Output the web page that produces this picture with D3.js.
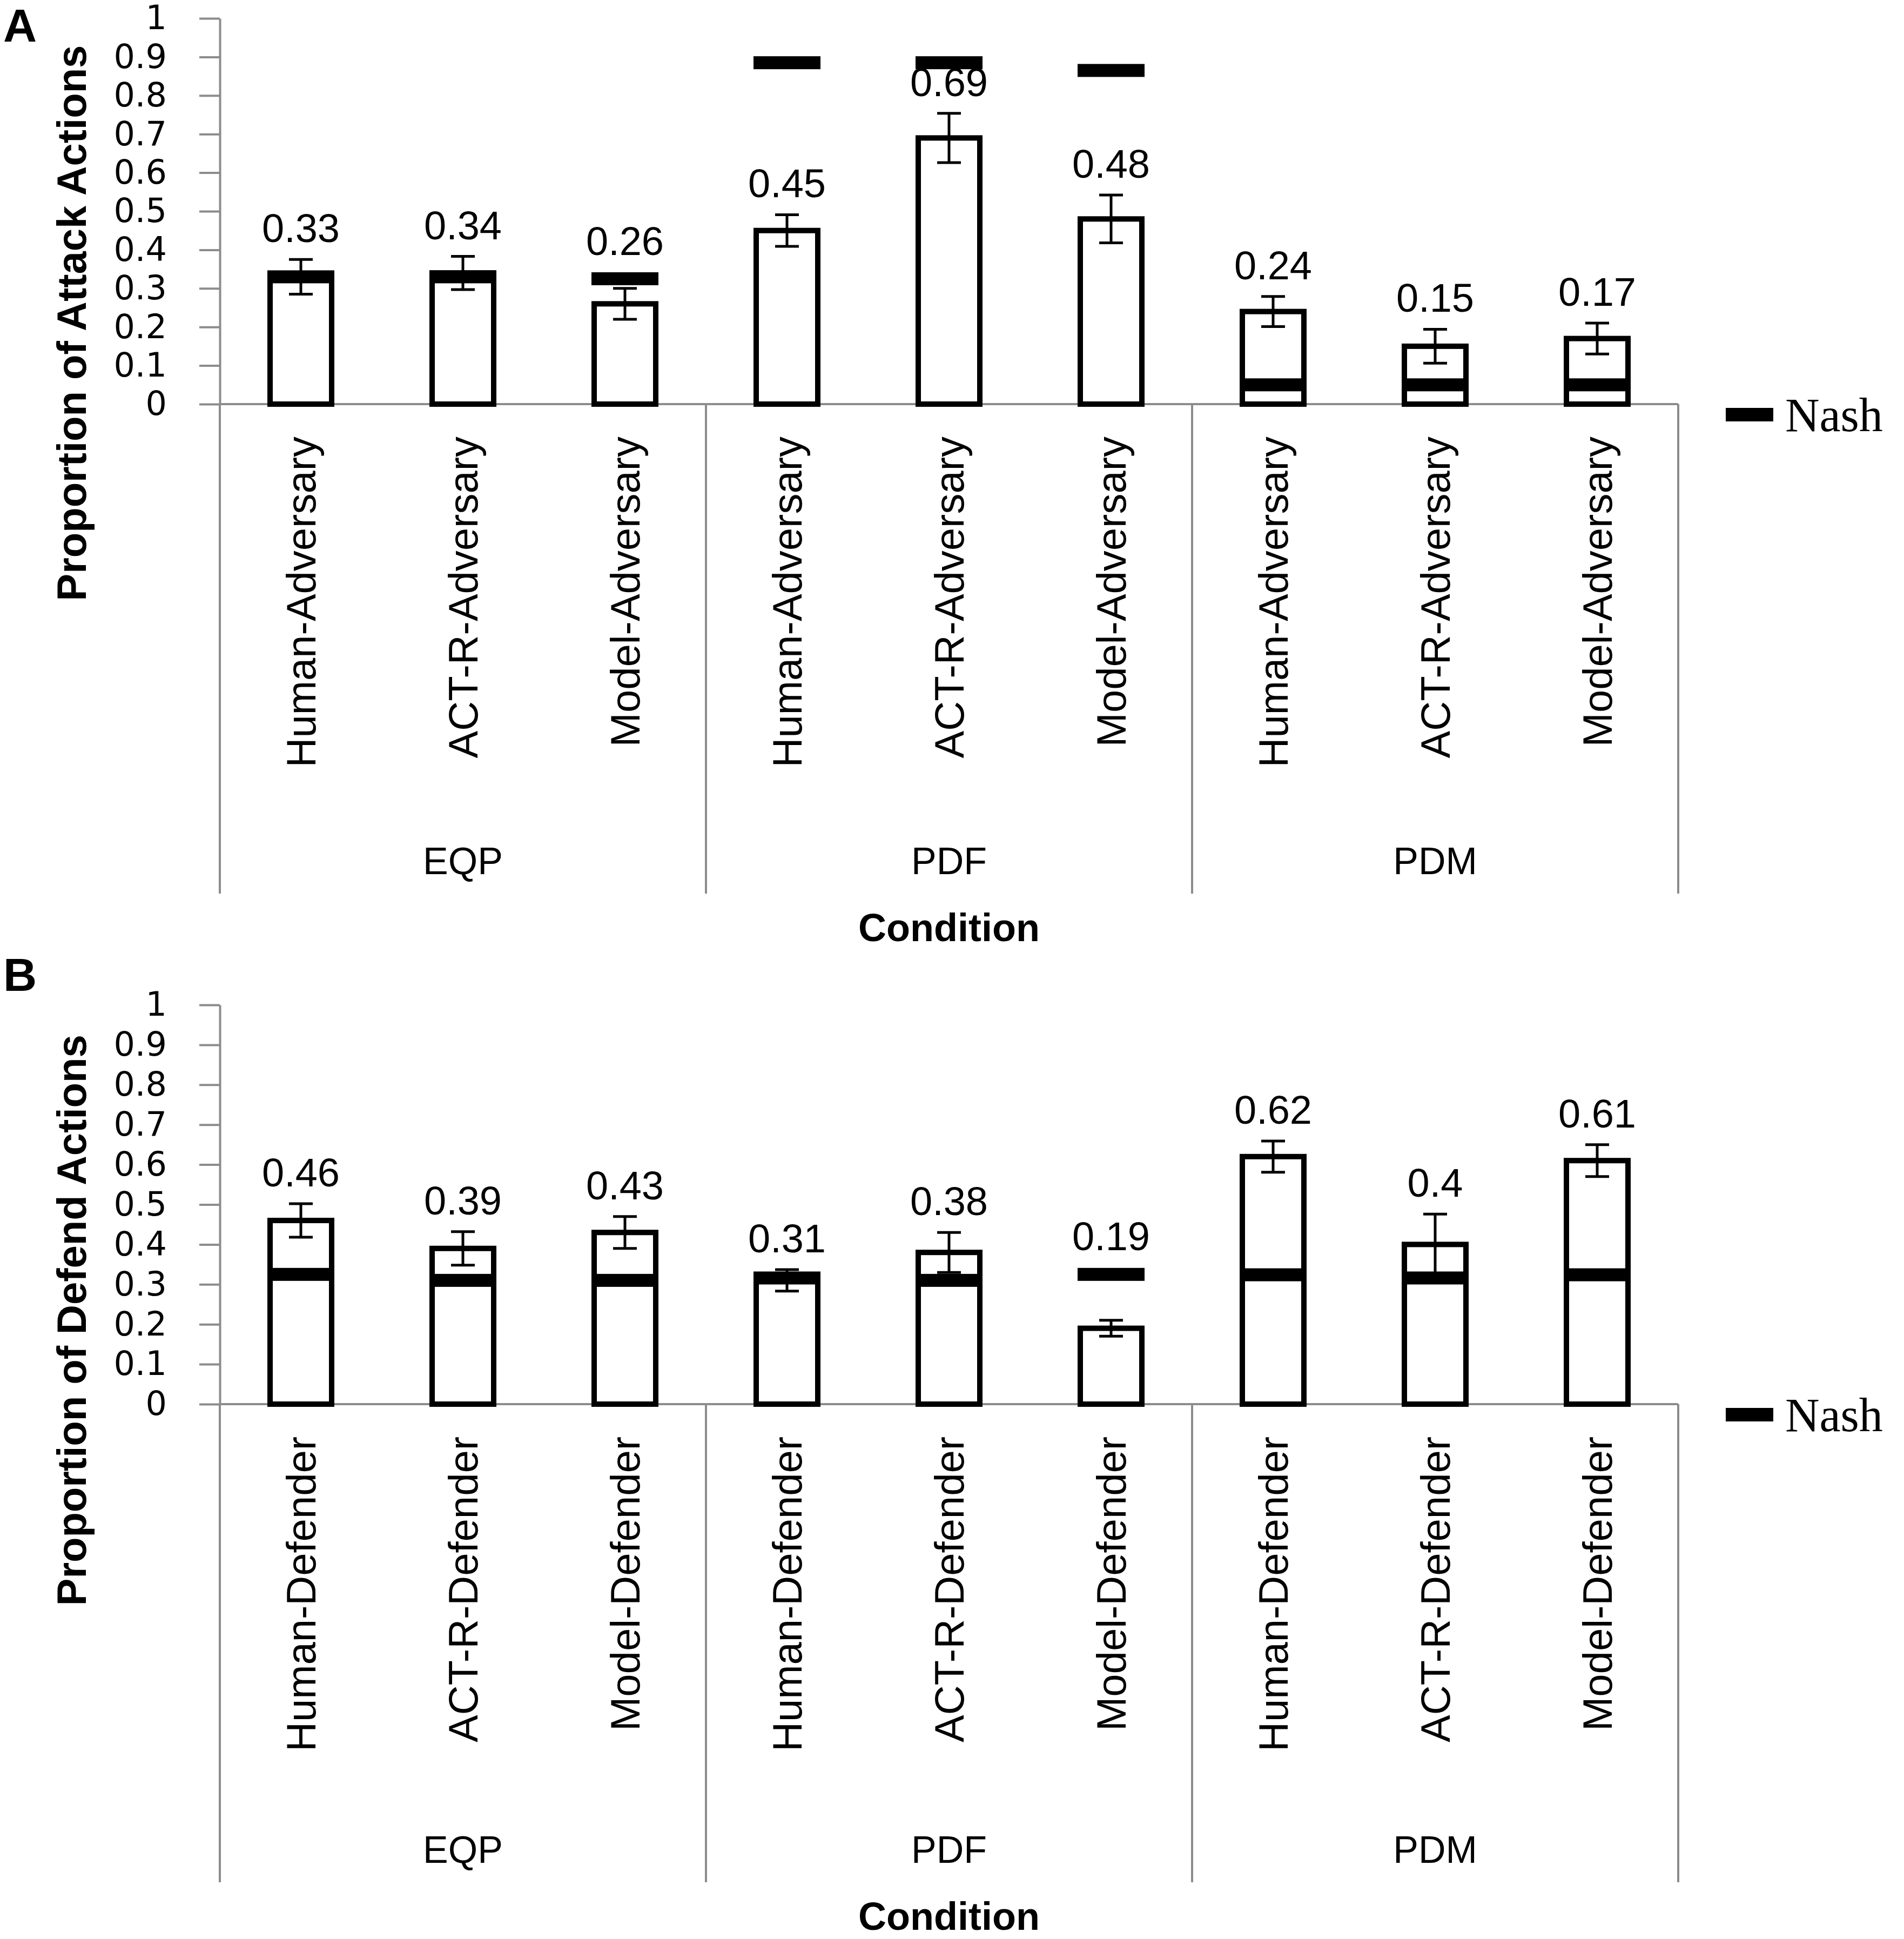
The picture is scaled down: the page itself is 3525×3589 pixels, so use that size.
<!DOCTYPE html>
<html lang="en">
<head>
<meta charset="utf-8">
<title>Attack and defend proportions</title>
<script src="https://cdn.jsdelivr.net/npm/d3@7"></script>
<style>
  body { margin: 0; background: #fff; }
  text { fill: #000; }
</style>
</head>
<body>
<svg id="chart" width="3525" height="3589"></svg>
<script>
// ---- data ----
var conditions = ["EQP", "PDF", "PDM"];
var attackAgents = ["Human-Adversary", "ACT-R-Adversary", "Model-Adversary"];
var defendAgents = ["Human-Defender", "ACT-R-Defender", "Model-Defender"];

// 9 bars per panel: EQP x3, PDF x3, PDM x3
var attackMeans = [0.33, 0.34, 0.26, 0.45, 0.69, 0.48, 0.24, 0.15, 0.17];
var attackErr   = [0.045, 0.043, 0.04, 0.041, 0.064, 0.062, 0.039, 0.044, 0.04];
var attackNash  = [0.33, 0.33, 0.325, 0.885, 0.885, 0.865, 0.05, 0.05, 0.05];

var defendMeans = [0.46, 0.39, 0.43, 0.31, 0.38, 0.19, 0.62, 0.40, 0.61];
var defendErr   = [0.042, 0.042, 0.04, 0.027, 0.05, 0.02, 0.039, 0.076, 0.04];
var defendNash  = [0.325, 0.31, 0.31, 0.316, 0.31, 0.325, 0.324, 0.316, 0.324];

var yTicks = [0, 0.1, 0.2, 0.3, 0.4, 0.5, 0.6, 0.7, 0.8, 0.9, 1];
var legendLabel = "Nash";
var xTitle = "Condition";

// ---- layout ----
var svg = d3.select("#chart");
var x0 = 407, x1 = 3107;
var sans = "'Liberation Sans', Arial, sans-serif";

var panels = [
  { tag: "A", tagY: 77, agents: attackAgents, means: attackMeans, err: attackErr, nash: attackNash,
    title: "Proportion of Attack Actions", top: 34, zero: 748, bottom: 1654 },
  { tag: "B", tagY: 1834, agents: defendAgents, means: defendMeans, err: defendErr, nash: defendNash,
    title: "Proportion of Defend Actions", top: 1860, zero: 2599, bottom: 3484 }
];

panels.forEach(drawPanel);

function drawPanel(p) {
  var g = svg.append("g");

  var rows = [];
  conditions.forEach(function(c, ci) {
    p.agents.forEach(function(a, ai) {
      var i = ci * 3 + ai;
      rows.push({ key: c + "|" + a, cond: c, agent: a, v: p.means[i], e: p.err[i], n: p.nash[i] });
    });
  });

  var y = d3.scaleLinear().domain([0, 1]).range([p.zero, p.top]);
  var xb = d3.scaleBand().domain(rows.map(d => d.key)).range([x0, x1])
      .paddingInner(0.62).paddingOuter(0.31);
  var xg = d3.scaleBand().domain(conditions).range([x0, x1]).padding(0);
  var bw = xb.bandwidth();

  // y axis
  var ax = g.append("g")
      .attr("transform", "translate(" + x0 + ",0)")
      .call(d3.axisLeft(y).tickValues(yTicks).tickFormat(d => String(d))
              .tickSize(38).tickSizeOuter(0).tickPadding(60));
  ax.select(".domain").attr("stroke", "#8c8c8c").attr("stroke-width", 4);
  ax.selectAll(".tick line").attr("stroke", "#8c8c8c").attr("stroke-width", 4);
  ax.selectAll(".tick text")
      .attr("font-family", "'DejaVu Sans', sans-serif")
      .attr("font-size", 62)
      .attr("fill", "#000");

  // x axis line and category box
  g.append("line").attr("x1", x0).attr("x2", x1).attr("y1", p.zero).attr("y2", p.zero)
      .attr("stroke", "#8c8c8c").attr("stroke-width", 4);
  var seps = conditions.map(c => xg(c)).concat([x1]);
  g.selectAll("line.sep").data(seps).enter().append("line")
      .attr("class", "sep")
      .attr("x1", d => d).attr("x2", d => d)
      .attr("y1", p.zero).attr("y2", p.bottom)
      .attr("stroke", "#8c8c8c").attr("stroke-width", 4);

  // bars
  g.selectAll("rect.bar").data(rows).enter().append("rect")
      .attr("class", "bar")
      .attr("x", d => xb(d.key))
      .attr("width", bw)
      .attr("y", d => y(d.v))
      .attr("height", d => p.zero - y(d.v))
      .attr("fill", "#fff")
      .attr("stroke", "#000")
      .attr("stroke-width", 10);

  // nash markers
  g.selectAll("rect.nash").data(rows).enter().append("rect")
      .attr("class", "nash")
      .attr("x", d => xb(d.key) - 5)
      .attr("width", bw + 10)
      .attr("y", d => y(d.n) - 12)
      .attr("height", 24)
      .attr("fill", "#000");

  // error bars
  var eb = g.selectAll("g.err").data(rows).enter().append("g").attr("class", "err")
      .attr("stroke", "#000").attr("stroke-width", 5);
  eb.append("line")
      .attr("x1", d => xb(d.key) + bw / 2).attr("x2", d => xb(d.key) + bw / 2)
      .attr("y1", d => y(d.v - d.e)).attr("y2", d => y(d.v + d.e));
  eb.append("line")
      .attr("x1", d => xb(d.key) + bw / 2 - 22).attr("x2", d => xb(d.key) + bw / 2 + 22)
      .attr("y1", d => y(d.v + d.e)).attr("y2", d => y(d.v + d.e));
  eb.append("line")
      .attr("x1", d => xb(d.key) + bw / 2 - 22).attr("x2", d => xb(d.key) + bw / 2 + 22)
      .attr("y1", d => y(d.v - d.e)).attr("y2", d => y(d.v - d.e));

  // value labels sit above the error bar (or the nash marker if it is just above it)
  g.selectAll("text.val").data(rows).enter().append("text")
      .attr("class", "val")
      .attr("x", d => xb(d.key) + bw / 2)
      .attr("y", function(d) {
        var t = d.v + d.e;
        if (d.n > d.v - 0.05 && d.n < t + 0.12) t = Math.max(t, d.n + 0.017);
        return y(t) - 32;
      })
      .attr("text-anchor", "middle")
      .attr("font-family", sans)
      .attr("font-size", 74)
      .text(d => String(d.v));

  // rotated agent labels
  g.selectAll("text.cat").data(rows).enter().append("text")
      .attr("class", "cat")
      .attr("transform", d => "translate(" + (xb(d.key) + bw / 2) + "," + (p.zero + 60) + ") rotate(-90)")
      .attr("text-anchor", "end")
      .attr("dy", "0.35em")
      .attr("font-family", sans)
      .attr("font-size", 76)
      .text(d => d.agent);

  // condition group labels
  g.selectAll("text.grp").data(conditions).enter().append("text")
      .attr("class", "grp")
      .attr("x", d => xg(d) + xg.bandwidth() / 2)
      .attr("y", p.bottom - 36)
      .attr("text-anchor", "middle")
      .attr("font-family", sans)
      .attr("font-size", 70)
      .text(d => d);

  // axis titles
  g.append("text")
      .attr("x", (x0 + x1) / 2)
      .attr("y", p.bottom + 88)
      .attr("text-anchor", "middle")
      .attr("font-family", sans)
      .attr("font-weight", "bold")
      .attr("font-size", 72)
      .text(xTitle);

  g.append("text")
      .attr("transform", "translate(132," + (p.top + 0.79 * (p.zero - p.top)) + ") rotate(-90)")
      .attr("text-anchor", "middle")
      .attr("dy", "0.35em")
      .attr("font-family", sans)
      .attr("font-weight", "bold")
      .attr("font-size", 76)
      .text(p.title);

  // panel tag
  g.append("text")
      .attr("x", 6).attr("y", p.tagY)
      .attr("font-family", sans)
      .attr("font-weight", "bold")
      .attr("font-size", 86)
      .text(p.tag);

  // legend
  var ly = p.zero + 19;
  g.append("rect")
      .attr("x", 3195).attr("y", ly - 12)
      .attr("width", 88).attr("height", 25)
      .attr("fill", "#000");
  g.append("text")
      .attr("x", 3305).attr("y", ly + 31)
      .attr("font-family", "'Liberation Serif', 'Times New Roman', serif")
      .attr("font-size", 88)
      .text(legendLabel);
}
</script>
</body>
</html>
